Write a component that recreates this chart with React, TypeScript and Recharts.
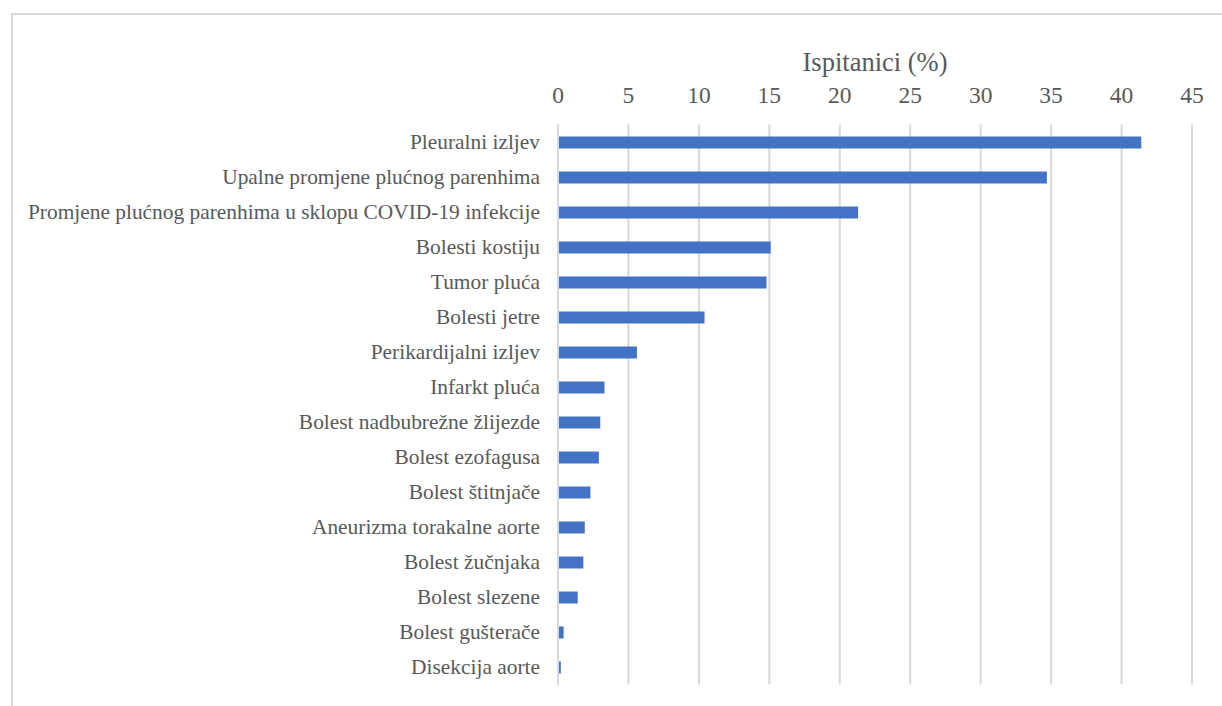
import { BarChart, Bar, XAxis, YAxis, CartesianGrid } from "recharts";

const categories = [
  "Pleuralni izljev",
  "Upalne promjene plućnog parenhima",
  "Promjene plućnog parenhima u sklopu COVID-19 infekcije",
  "Bolesti kostiju",
  "Tumor pluća",
  "Bolesti jetre",
  "Perikardijalni izljev",
  "Infarkt pluća",
  "Bolest nadbubrežne žlijezde",
  "Bolest ezofagusa",
  "Bolest štitnjače",
  "Aneurizma torakalne aorte",
  "Bolest žučnjaka",
  "Bolest slezene",
  "Bolest gušterače",
  "Disekcija aorte",
];

const values = [41.4, 34.7, 21.3, 15.1, 14.8, 10.4, 5.6, 3.3, 3.0, 2.9, 2.3, 1.9, 1.8, 1.4, 0.4, 0.2];

const xTicks = [0, 5, 10, 15, 20, 25, 30, 35, 40, 45];

const data = categories.map((name, i) => ({ name, value: values[i] }));

const FONT = "'Liberation Serif', 'Times New Roman', serif";
const TEXT = "#595959";
const GRID = "#d9d9d9";

function XTick({ x, payload }: any) {
  return (
    <text x={x} y={103} textAnchor="middle" fontFamily={FONT} fontSize={23.5} fill={TEXT}>
      {payload.value}
    </text>
  );
}

function YTick({ x, y, payload }: any) {
  return (
    <text x={x - 18} y={y} dy="0.35em" textAnchor="end" fontFamily={FONT} fontSize={21.4} fill={TEXT}>
      {payload.value}
    </text>
  );
}

function AxisTitle(props: any) {
  const vb = props.viewBox || {};
  const cx = vb.width ? vb.x + vb.width / 2 : 875;
  return (
    <text x={cx} y={71} textAnchor="middle" fontFamily={FONT} fontSize={26.5} fill={TEXT}>
      Ispitanici (%)
    </text>
  );
}

export default function App() {
  return (
    <div style={{ position: "absolute", left: 0, top: 0, width: 1222, height: 706, background: "#fff", overflow: "hidden" }}>
      <div
        style={{
          position: "absolute",
          left: 11,
          top: 13,
          width: 1230,
          height: 720,
          border: `2px solid ${GRID}`,
          boxSizing: "border-box",
        }}
      />
      <div style={{ position: "absolute", left: 0, top: 0 }}>
        <BarChart
          width={1222}
          height={706}
          data={data}
          layout="vertical"
          margin={{ top: 0, right: 30, bottom: 21.5, left: 0 }}
        >
          <CartesianGrid horizontal={false} stroke={GRID} strokeWidth={2} />
          <XAxis
            type="number"
            orientation="top"
            domain={[0, 45]}
            ticks={xTicks}
            height={124.5}
            axisLine={false}
            tickLine={false}
            tick={<XTick />}
            label={AxisTitle}
          />
          <YAxis
            type="category"
            dataKey="name"
            width={558}
            tickLine={false}
            tickSize={0}
            tickMargin={0}
            axisLine={{ stroke: GRID, strokeWidth: 2 }}
            tick={<YTick />}
            interval={0}
          />
          <Bar dataKey="value" fill="#4472C4" barSize={12} isAnimationActive={false} />
        </BarChart>
      </div>
    </div>
  );
}
